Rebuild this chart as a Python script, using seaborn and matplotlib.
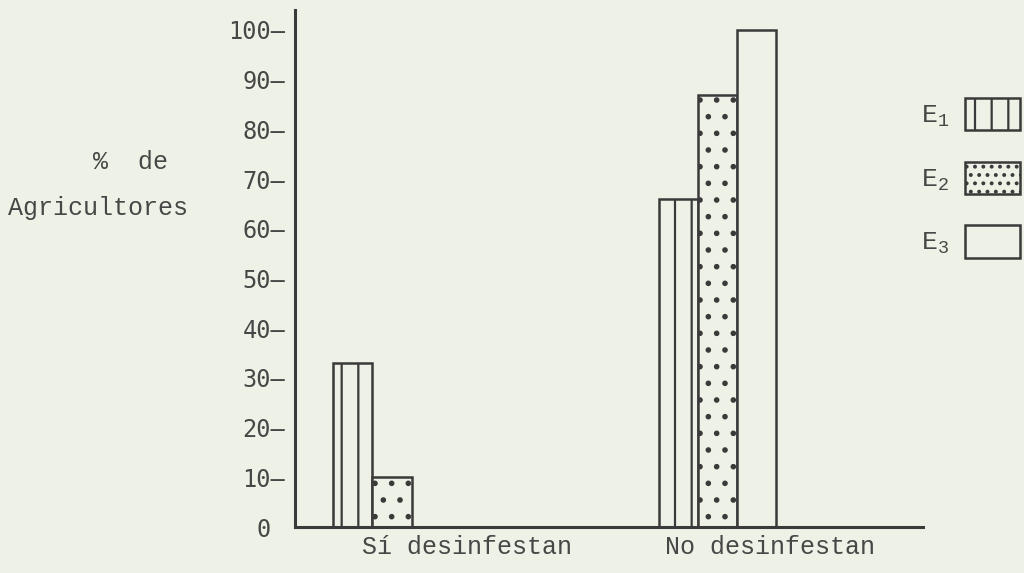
import numpy as np
import pandas as pd
import matplotlib
matplotlib.use("Agg")
import matplotlib.pyplot as plt
from matplotlib.patches import Patch
import seaborn as sns

# ---- data ----
categories = ["Sí desinfestan", "No desinfestan"]
series_names = ["E1", "E2", "E3"]
e1_values = [33, 66]
e2_values = [10, 87]
e3_values = [0, 100]
yticks = [0, 10, 20, 30, 40, 50, 60, 70, 80, 90, 100]
ytick_labels = ["0 ", "10–", "20–", "30–", "40–", "50–", "60–", "70–", "80–", "90–", "100–"]
legend_labels = [r"$\mathregular{E_1}$", r"$\mathregular{E_2}$", r"$\mathregular{E_3}$"]

df = pd.DataFrame({
    "categoria": categories * 3,
    "serie": np.repeat(series_names, len(categories)),
    "valor": e1_values + e2_values + e3_values,
})

# ---- style ----
bg = "#eef2e6"
ink = "#3a3a3a"
txt = "#474747"
sns.set_theme(style="white")
plt.rcParams["font.family"] = ["Liberation Mono", "DejaVu Sans"]
plt.rcParams["hatch.linewidth"] = 1.6
plt.rcParams["hatch.color"] = ink

fig = plt.figure(figsize=(10.24, 5.73), dpi=100, facecolor=bg)
ax = fig.add_axes([0.288, 0.080, 0.613, 0.9025])
ax.set_facecolor(bg)

sns.barplot(data=df, x="categoria", y="valor", hue="serie", order=categories,
            hue_order=series_names, palette=[bg] * 3, width=0.36, gap=0,
            edgecolor=ink, linewidth=1.8, legend=False, ax=ax, saturation=1)

hatches = ["|", ".", ""]
for cont, h in zip(ax.containers, hatches):
    for bar in cont:
        bar.set_hatch(h)
        bar.set_edgecolor(ink)

ax.set_xlim(-0.298, 1.629)
ax.set_ylim(0, 104)
ax.set_yticks(yticks)
ax.set_yticklabels(ytick_labels, fontfamily="DejaVu Sans Mono", fontsize=17, color=txt)
label_offsets = [0.23, 0.16]
ax.set_xticks([i + o for i, o in enumerate(label_offsets)])
ax.set_xticklabels(categories, fontsize=18, color=txt)
ax.tick_params(axis="y", length=0, pad=7)
ax.tick_params(axis="x", length=0, pad=6)
ax.set_xlabel("")
ax.set_ylabel("")
for s in ["top", "right"]:
    ax.spines[s].set_visible(False)
for s in ["left", "bottom"]:
    ax.spines[s].set_color(ink)
    ax.spines[s].set_linewidth(2.2)

fig.text(93 / 1024, 1 - 162 / 573, "%  de", fontsize=18, color=txt, ha="left", va="center")
fig.text(8 / 1024, 1 - 208 / 573, "Agricultores", fontsize=18, color=txt, ha="left", va="center")

handles = [Patch(facecolor=bg, edgecolor=ink, hatch=h, linewidth=1.8) for h in ["|", "..", ""]]
fig.legend(handles, legend_labels, loc="center", bbox_to_anchor=(0.948, 0.69),
           frameon=False, markerfirst=False, fontsize=19, handlelength=2.1,
           handleheight=1.5, labelspacing=1.2, handletextpad=0.6, labelcolor=txt,
           borderpad=0)

fig.savefig("out.png", dpi=100, facecolor=bg)
